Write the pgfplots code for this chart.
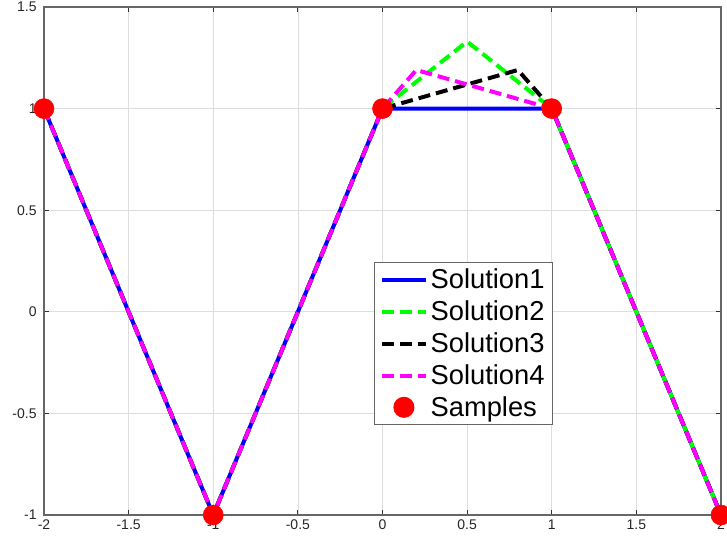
\documentclass[border=0pt]{standalone}
\usepackage{pgfplots}
\pgfplotsset{compat=1.18}
\usepackage{fontspec}
\setmainfont{Liberation Sans}
\definecolor{mgreen}{RGB}{0,255,0}
\definecolor{mmag}{RGB}{255,0,255}
\begin{document}
\begin{tikzpicture}
\begin{axis}[
  scale only axis, width=507.75pt, height=381pt,
  xmin=-2, xmax=2, ymin=-1, ymax=1.5,
  xtick={-2,-1.5,-1,-0.5,0,0.5,1,1.5,2},
  ytick={-1,-0.5,0,0.5,1,1.5},
  xticklabels={-2,-1.5,-1,-0.5,0,0.5,1,1.5,2},
  yticklabels={-1,-0.5,0,0.5,1,1.5},
  grid=major, major grid style={draw=black!13, line width=0.5pt},
  axis line style={draw=black!60, line width=0.8pt},
  tick style={draw=black!80, line width=0.8pt},
  tick align=inside, major tick length=4pt,
  ticklabel style={font=\fontsize{10.5}{12}\selectfont, text=black!85},
  yticklabel style={xshift=-2pt},
  clip=false,
  legend cell align=left,
  legend style={at={(axis cs:0.479,-0.157)}, anchor=center,
    font=\fontsize{20.5}{23}\selectfont, draw=black!60, line width=0.8pt,
    inner xsep=4pt, inner ysep=3pt, row sep=3.5pt},
  legend image code/.code={\draw[#1] (0pt,0pt) -- (33pt,0pt);},
]
\addplot[blue, line width=3pt] coordinates {(-2,1) (-1,-1) (0,1) (1,1) (2,-1)};
\addlegendentry{Solution1}
\addplot[mgreen, line width=3pt, dash pattern=on 9pt off 4.5pt] coordinates {(-2,1) (-1,-1) (0,1) (0.5,1.33) (1,1) (2,-1)};
\addlegendentry{Solution2}
\addplot[black, line width=3pt, dash pattern=on 9pt off 4.5pt] coordinates {(-2,1) (-1,-1) (0,1) (0.8,1.19) (1,1) (2,-1)};
\addlegendentry{Solution3}
\addplot[mmag, line width=3pt, dash pattern=on 9pt off 4.5pt] coordinates {(-2,1) (-1,-1) (0,1) (0.2,1.19) (1,1) (2,-1)};
\addlegendentry{Solution4}
\addplot[only marks, mark=*, mark size=7.5pt, red, mark options={draw=red, fill=red},
  legend image code/.code={\fill[red] (16.5pt,0pt) circle (7.5pt);}]
  coordinates {(-2,1) (-1,-1) (0,1) (1,1) (2,-1)};
\addlegendentry{Samples}
\end{axis}
\pgfresetboundingbox
\path ([shift={(-33pt,-21pt)}]current axis.south west) rectangle ([shift={(4.5pt,5.25pt)}]current axis.north east);
\end{tikzpicture}
\end{document}
